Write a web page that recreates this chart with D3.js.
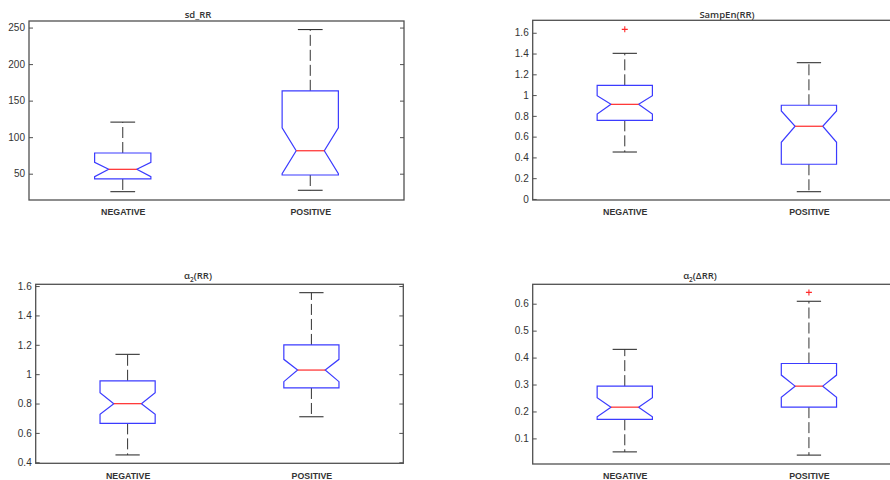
<!DOCTYPE html>
<html><head><meta charset="utf-8">
<script src="https://cdn.jsdelivr.net/npm/d3@7/dist/d3.min.js"></script>
<style>
html,body{margin:0;padding:0;background:#fff;}
svg{display:block;font-family:"Open Sans","Liberation Sans",Arial,sans-serif;}
</style></head>
<body>
<svg id="chart" width="890" height="480"></svg>
<script>
// ---- data ----
const categories = ["NEGATIVE", "POSITIVE"];
// stats order: [whiskerLow, Q1, notchLow, median, notchHigh, Q3, whiskerHigh]
const sdRR_neg = [25.4, 42.8, 45.9, 56.0, 65.6, 78.3, 120.6];
const sdRR_pos = [27.3, 48.2, 50.0, 81.4, 112.8, 163.4, 247.3];
const sdRR_out = [[], []];
const sdRR_ticks = [50, 100, 150, 200, 250];

const sampEn_neg = [0.452, 0.757, 0.818, 0.911, 0.994, 1.094, 1.402];
const sampEn_pos = [0.070, 0.334, 0.546, 0.700, 0.847, 0.902, 1.312];
const sampEn_out = [[1.633], []];
const sampEn_ticks = [0, 0.2, 0.4, 0.6, 0.8, 1, 1.2, 1.4, 1.6];

const a2RR_neg = [0.450, 0.665, 0.727, 0.799, 0.874, 0.955, 1.135];
const a2RR_pos = [0.710, 0.906, 0.949, 1.028, 1.101, 1.199, 1.555];
const a2RR_out = [[], []];
const a2RR_ticks = [0.4, 0.6, 0.8, 1, 1.2, 1.4, 1.6];

const a2dRR_neg = [0.050, 0.171, 0.180, 0.216, 0.251, 0.294, 0.4305];
const a2dRR_pos = [0.038, 0.216, 0.253, 0.294, 0.335, 0.378, 0.609];
const a2dRR_out = [[], [0.642]];
const a2dRR_ticks = [0.1, 0.2, 0.3, 0.4, 0.5, 0.6];

// ---- layout ----
const panels = [
  {title: ["sd_RR"], tx: 198, ty: 18, x0: 29, x1: 404, y0: 21, y1: 200, dom: [14, 259],
   data: [sdRR_neg, sdRR_pos], out: sdRR_out, ticks: sdRR_ticks, lab: 215},
  {title: ["SampEn(RR)"], tx: 727, ty: 18, x0: 532.7, x1: 901, y0: 20.3, y1: 200, dom: [-0.01, 1.72],
   data: [sampEn_neg, sampEn_pos], out: sampEn_out, ticks: sampEn_ticks, lab: 215},
  {title: ["α", "2", "(RR)"], tx: 198, ty: 279, x0: 35.7, x1: 403.3, y0: 284.3, y1: 463.3, dom: [0.393, 1.612],
   data: [a2RR_neg, a2RR_pos], out: a2RR_out, ticks: a2RR_ticks, lab: 479},
  {title: ["α", "2", "(ΔRR)"], tx: 700, ty: 279, x0: 532.7, x1: 901, y0: 284.3, y1: 464, dom: [0.005, 0.672],
   data: [a2dRR_neg, a2dRR_pos], out: a2dRR_out, ticks: a2dRR_ticks, lab: 479}
];

const svg = d3.select("#chart");
const fmt = d => String(+d.toFixed(2));
const boxW = 0.3;

panels.forEach(p => {
  const g = svg.append("g");
  const x = d3.scaleLinear().domain([0.5, 2.5]).range([p.x0, p.x1]);
  const y = d3.scaleLinear().domain(p.dom).range([p.y1, p.y0]);

  // frame
  g.append("rect").attr("x", p.x0).attr("y", p.y0)
    .attr("width", p.x1 - p.x0).attr("height", p.y1 - p.y0)
    .attr("fill", "none").attr("stroke", "#505050").attr("stroke-width", 1.3);

  // left axis
  const la = g.append("g").attr("transform", `translate(${p.x0},0)`)
    .call(d3.axisLeft(y).tickValues(p.ticks).tickFormat(fmt).tickSize(-4).tickPadding(4));
  la.select(".domain").remove();
  la.selectAll("line").attr("stroke", "#505050");
  la.selectAll("text").attr("fill", "#333").style("font-size", "10px");
  // right axis
  const ra = g.append("g").attr("transform", `translate(${p.x1},0)`)
    .call(d3.axisRight(y).tickValues(p.ticks).tickFormat("").tickSize(-4));
  ra.select(".domain").remove();
  ra.selectAll("line").attr("stroke", "#505050");

  // bottom labels
  const ba = g.append("g").attr("transform", `translate(0,${p.y1})`)
    .call(d3.axisBottom(x).tickValues([1, 2]).tickFormat(d => categories[d - 1]).tickSize(0).tickPadding(6));
  ba.select(".domain").remove();
  ba.selectAll("text").attr("fill", "#333").style("font-size", "8.8px").style("font-weight", "600")
    .attr("y", null).attr("dy", null).attr("transform", `translate(0,${p.lab - p.y1})`);

  // title
  const t = g.append("text").attr("x", p.tx).attr("y", p.ty).attr("text-anchor", "middle")
    .attr("fill", "#333").style("font-size", "9.5px").style("font-weight", "600");
  t.append("tspan").text(p.title[0]);
  if (p.title.length > 1) {
    t.append("tspan").text(p.title[1]).attr("dy", 2.5).style("font-size", "6.5px");
    t.append("tspan").text(p.title[2]).attr("dy", -2.5);
  }

  // boxes
  p.data.forEach((s, i) => {
    const c = i + 1;
    const [wl, q1, nl, med, nh, q3, wh] = s;
    const bl = x(c - boxW / 2), br = x(c + boxW / 2);
    const ml = x(c - boxW / 4), mr = x(c + boxW / 4);
    const cl = x(c - boxW * 0.22), cr = x(c + boxW * 0.22);
    // whiskers (dashed)
    g.append("line").attr("x1", x(c)).attr("x2", x(c)).attr("y1", y(q3)).attr("y2", y(wh))
      .attr("stroke", "#333").attr("stroke-dasharray", "11,4");
    g.append("line").attr("x1", x(c)).attr("x2", x(c)).attr("y1", y(q1)).attr("y2", y(wl))
      .attr("stroke", "#333").attr("stroke-dasharray", "11,4");
    // caps
    [wl, wh].forEach(v => g.append("line").attr("x1", cl).attr("x2", cr)
      .attr("y1", y(v)).attr("y2", y(v)).attr("stroke", "#333").attr("stroke-width", 1.1));
    // notched box
    const pts = [[bl, y(q1)], [br, y(q1)], [br, y(nl)], [mr, y(med)], [br, y(nh)], [br, y(q3)],
                 [bl, y(q3)], [bl, y(nh)], [ml, y(med)], [bl, y(nl)]];
    g.append("path").attr("d", d3.line()(pts) + "Z")
      .attr("fill", "none").attr("stroke", "#3b3bff").attr("stroke-width", 1.2);
    // median
    g.append("line").attr("x1", ml).attr("x2", mr).attr("y1", y(med)).attr("y2", y(med))
      .attr("stroke", "#ff2a2a").attr("stroke-width", 1.2);
    // outliers
    p.out[i].forEach(v => {
      const cx = x(c), cy = y(v);
      g.append("path").attr("d", `M${cx - 3},${cy}H${cx + 3}M${cx},${cy - 3}V${cy + 3}`)
        .attr("stroke", "#ff2a2a").attr("stroke-width", 1.1);
    });
  });
});
</script>
</body></html>
